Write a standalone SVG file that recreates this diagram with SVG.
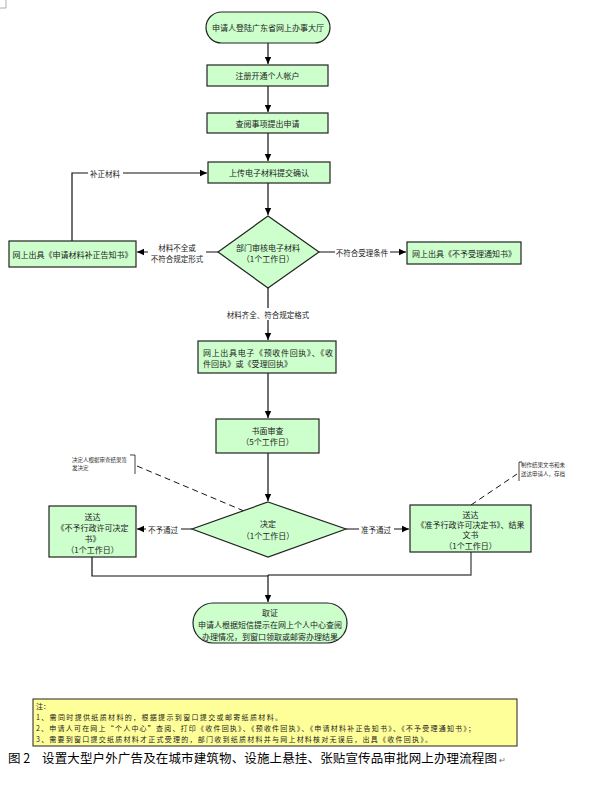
<svg xmlns="http://www.w3.org/2000/svg" width="594" height="787" viewBox="0 0 594 787">
<defs>
<marker id="arr" markerUnits="userSpaceOnUse" markerWidth="8" markerHeight="8" refX="7" refY="4" orient="auto">
<path d="M0,0.8 L7,4 L0,7.2 Z" fill="#000"/>
</marker>
<style>
.n{fill:#ccffcc;stroke:#222;stroke-width:1.2}
.t{font-family:"Noto Sans CJK SC","Liberation Sans",sans-serif;font-size:8px;fill:#222;text-anchor:middle;dominant-baseline:central}
.tl{font-family:"Noto Sans CJK SC","Liberation Sans",sans-serif;font-size:8px;fill:#222;dominant-baseline:central}
.l{font-family:"Noto Sans CJK SC","Liberation Sans",sans-serif;font-size:7.5px;fill:#222;text-anchor:middle;dominant-baseline:central}
.c{stroke:#111;stroke-width:1.2;fill:none}
.d{stroke:#111;stroke-width:1;fill:none;stroke-dasharray:6,4}
.s{font-family:"Noto Sans CJK SC","Liberation Sans",sans-serif;font-size:5.5px;fill:#333}
.nt{font-family:"Noto Sans CJK SC","Liberation Serif",serif;font-size:7px;fill:#222}
.bg{fill:#fff}
</style>
</defs>
<rect width="594" height="787" fill="#fff"/>
<path d="M6,0 V8 H0" stroke="#999" stroke-width="0.8" fill="none"/>

<g id="connectors">
<path class="c" d="M268,43 V64" marker-end="url(#arr)"/>
<path class="c" d="M268,86 V112" marker-end="url(#arr)"/>
<path class="c" d="M268,133 V161" marker-end="url(#arr)"/>
<path class="c" d="M268,183 V215" marker-end="url(#arr)"/>
<path class="c" d="M218,252 H137" marker-end="url(#arr)"/>
<rect class="bg" x="148" y="242" width="58" height="21"/>
<text class="l" x="177" y="247">材料不全或</text>
<text class="l" x="177" y="258">不符合规定形式</text>
<path class="c" d="M72,241 V173 H207" marker-end="url(#arr)"/>
<rect class="bg" x="88" y="168" width="35" height="10"/>
<text class="l" x="105" y="173">补正材料</text>
<path class="c" d="M319,252 H406" marker-end="url(#arr)"/>
<rect class="bg" x="335" y="247" width="55" height="10"/>
<text class="l" x="362" y="252">不符合受理条件</text>
<path class="c" d="M268,288 V340" marker-end="url(#arr)"/>
<rect class="bg" x="222" y="308" width="92" height="12"/>
<text class="l" x="268" y="314">材料齐全、符合规定格式</text>
<path class="c" d="M268,373 V418" marker-end="url(#arr)"/>
<path class="c" d="M268,453 V501" marker-end="url(#arr)"/>
<path class="c" d="M192,529 H137" marker-end="url(#arr)"/>
<rect class="bg" x="146" y="524" width="35" height="10"/>
<text class="l" x="163" y="529">不予通过</text>
<path class="c" d="M346,529 H409" marker-end="url(#arr)"/>
<rect class="bg" x="359" y="524" width="35" height="10"/>
<text class="l" x="376" y="529">准予通过</text>
<path class="c" d="M92,557 V576 H268"/>
<path d="M471,552 V575 H268" stroke="#555" stroke-width="1.4" fill="none"/>
<path class="c" d="M268,575 V602" marker-end="url(#arr)"/>
<path class="d" d="M137,466 L244,511"/>
<path class="d" d="M471,505 L517,474"/>
</g>

<g id="start">
<rect class="n" x="206" y="12" width="124" height="31" rx="15.5"/>
<text class="t" x="268" y="27.5">申请人登陆广东省网上办事大厅</text>
</g>
<g id="register">
<rect class="n" x="207" y="65" width="121" height="21"/>
<text class="t" x="267.5" y="75.5">注册开通个人帐户</text>
</g>
<g id="apply">
<rect class="n" x="207" y="113" width="121" height="20"/>
<text class="t" x="267.5" y="123">查阅事项提出申请</text>
</g>
<g id="upload">
<rect class="n" x="208" y="162" width="122" height="21"/>
<text class="t" x="269" y="172.5">上传电子材料提交确认</text>
</g>
<g id="review">
<path class="n" d="M268,216 L319,252 L268,288 L218,252 Z"/>
<text class="t" x="268" y="247">部门审核电子材料</text>
<text class="t" x="268" y="258">（1个工作日）</text>
</g>
<g id="supplement">
<rect class="n" x="9" y="241" width="127" height="26"/>
<text class="t" x="72.5" y="254">网上出具《申请材料补正告知书》</text>
</g>
<g id="reject">
<rect class="n" x="407" y="242" width="114" height="22"/>
<text class="t" x="464" y="253">网上出具《不予受理通知书》</text>
</g>
<g id="receipt">
<rect class="n" x="198" y="341" width="138" height="32"/>
<text class="tl" x="203" y="352" textLength="130" lengthAdjust="spacing">网上出具电子《预收件回执》、《收</text>
<text class="tl" x="203" y="363" textLength="89" lengthAdjust="spacing">件回执》或《受理回执》</text>
</g>
<g id="paper">
<rect class="n" x="216" y="419" width="103" height="34"/>
<text class="t" x="267.5" y="430.5">书面审查</text>
<text class="t" x="267.5" y="441.5">（5个工作日）</text>
</g>
<g id="decide">
<path class="n" d="M268,502 L346,529 L268,557 L192,529 Z"/>
<text class="t" x="268" y="523">决定</text>
<text class="t" x="268" y="535">（1个工作日）</text>
</g>
<g id="deny">
<rect class="n" x="49" y="506" width="87" height="51"/>
<text class="t" x="92.5" y="516">送达</text>
<text class="t" x="92.5" y="527">《不予行政许可决定</text>
<text class="t" x="92.5" y="538">书》</text>
<text class="t" x="92.5" y="549">（1个工作日）</text>
</g>
<g id="grant">
<rect class="n" x="410" y="505" width="121" height="47"/>
<text class="t" x="470.5" y="514">送达</text>
<text class="t" x="470.5" y="524">《准予行政许可决定书》、结果</text>
<text class="t" x="470.5" y="534">文书</text>
<text class="t" x="470.5" y="545">（1个工作日）</text>
</g>
<g id="collect">
<rect class="n" x="193" y="603" width="154" height="40" rx="20"/>
<text class="t" x="270" y="612">取证</text>
<text class="t" x="270" y="624">申请人根据短信提示在网上个人中心查阅</text>
<text class="t" x="270" y="636">办理情况，到窗口领取或邮寄办理结果</text>
</g>

<g id="note-left">
<path d="M130,455 H135 V474" stroke="#111" stroke-width="0.8" fill="none"/>
<text class="s" x="72" y="462">决定人根据审查结果签</text>
<text class="s" x="72" y="470">发决定</text>
</g>
<g id="note-right">
<path d="M522,462 H519 V481" stroke="#111" stroke-width="0.8" fill="none"/>
<text class="s" x="521" y="467">制作结果文书和未</text>
<text class="s" x="521" y="476">送达申请人，存档</text>
</g>

<g id="notes">
<rect x="33" y="699" width="484" height="47" fill="#ffff99" stroke="#222" stroke-width="1"/>
<text class="nt" x="36" y="709">注：</text>
<text class="nt" x="36" y="720" textLength="246" lengthAdjust="spacing">1、需同时提供纸质材料的，根据提示到窗口提交或邮寄纸质材料。</text>
<text class="nt" x="36" y="731" textLength="439" lengthAdjust="spacing">2、申请人可在网上“个人中心”查阅、打印《收件回执》、《预收件回执》、《申请材料补正告知书》、《不予受理通知书》；</text>
<text class="nt" x="36" y="742" textLength="396" lengthAdjust="spacing">3、需要到窗口提交纸质材料才正式受理的，部门收到纸质材料并与网上材料核对无误后，出具《收件回执》。</text>
</g>
<g id="caption" font-family="Noto Sans CJK SC,Liberation Sans,sans-serif" font-size="12.5" fill="#000">
<text x="8" y="763">图 2</text>
<text x="42" y="763" textLength="455" lengthAdjust="spacing">设置大型户外广告及在城市建筑物、设施上悬挂、张贴宣传品审批网上办理流程图</text>
<text x="499" y="763" font-size="8" fill="#666">↵</text>
</g>
</svg>
